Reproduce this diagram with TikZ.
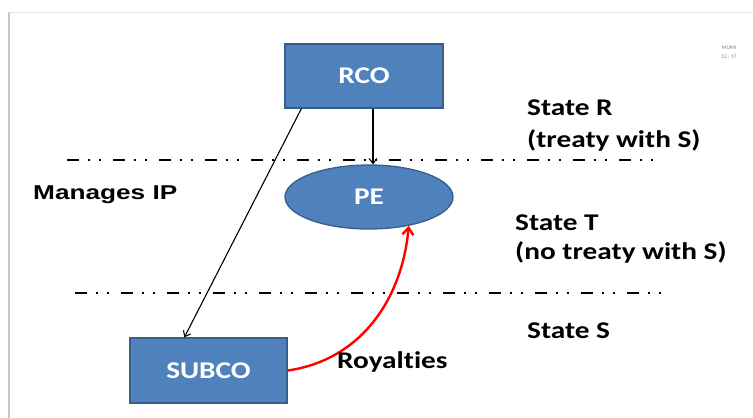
\documentclass[tikz,border=0pt]{standalone}
\usepackage{fontspec}
\setmainfont{Carlito}[Ligatures=NoCommon]
\newfontfamily\arialfam{Liberation Sans}
\usetikzlibrary{arrows.meta,shapes.geometric,calc}
\definecolor{boxfill}{HTML}{4F81BD}
\definecolor{boxline}{HTML}{385D8A}
\newcommand\stretchtxt[1]{\scalebox{1.22}[1.0]{#1}}
\begin{document}
\begin{tikzpicture}[x=1pt,y=-1pt,
  box/.style={draw=boxline, line width=1.3pt, fill=boxfill, text=white,
    font=\bfseries\fontsize{24}{28}\selectfont, inner sep=0pt},
  lbl/.style={anchor=base west, inner sep=0pt, font=\bfseries\fontsize{24}{28}\selectfont},
  border/.style={dash pattern=on 12pt off 8.5pt on 2.5pt off 8.5pt on 2.5pt off 12pt, line width=2.2pt},
  conn/.style={line width=1.1pt, -{Straight Barb[length=5pt,width=8pt]}},
  royal/.style={red, line width=2.4pt, -{Straight Barb[length=7pt,width=11pt]}},
  tiny/.style={inner sep=0pt, text=gray, font=\fontsize{5.5}{6}\selectfont}
]
\useasboundingbox (0,0) rectangle (753,418);
\fill[white] (0,0) rectangle (753,418);
% slide frame shadow
\draw[gray!45, line width=1.6pt] (9,12) -- (9,418);
\draw[gray!20, line width=1pt] (9,12) -- (753,12);

% nodes
\node[box, minimum width=158pt, minimum height=64pt] (rco) at (364,76) {\stretchtxt{RCO}};
\node[box, ellipse, minimum width=168pt, minimum height=64pt] (pe) at (369,197) {\stretchtxt{PE}};
\node[box, minimum width=157pt, minimum height=65pt] (subco) at (208.5,370.5) {\stretchtxt{SUBCO}};

% boundaries
\coordinate (b1s) at (67,160);
\coordinate (b1e) at (662,160);
\coordinate (b2s) at (75,293);
\coordinate (b2e) at (668,293);
\draw[border] (b1s) -- (b1e);
\draw[border] (b2s) -- (b2e);

% connectors
\coordinate (rcoa) at ($(rco.south west)+(17,0)$);
\coordinate (subn) at ($(subco.north west)+(55,0)$);
\coordinate (rcob) at ($(rco.south)+(9,0)$);
\draw[conn] (rcoa) -- (subn);
\draw[conn] (rcob) -- (rcob |- pe.north);
\draw[royal] (subco.east) to[out=8, in=-95] (pe.-36);

% labels
\node[lbl] (sr) at (527,115) {\stretchtxt{State R}};
\node[lbl] (srt) at (527,147) {\stretchtxt{(treaty with S)}};
\node[lbl] (st) at (515,230) {\stretchtxt{State T}};
\node[lbl] (stt) at (515,259) {\stretchtxt{(no treaty with S)}};
\node[lbl] (ss) at (527,338) {\stretchtxt{State S}};
\node[lbl] (roy) at (337,368) {\stretchtxt{Royalties}};
\node[lbl, font=\arialfam\bfseries\fontsize{20}{24}\selectfont] (mip) at (33,199) {\scalebox{1.31}[1.0]{Manages IP}};

\node[tiny] (m1) at (729,48) {MUMI};
\node[tiny] (m2) at (729,57) {12 - 17};
\end{tikzpicture}
\end{document}
